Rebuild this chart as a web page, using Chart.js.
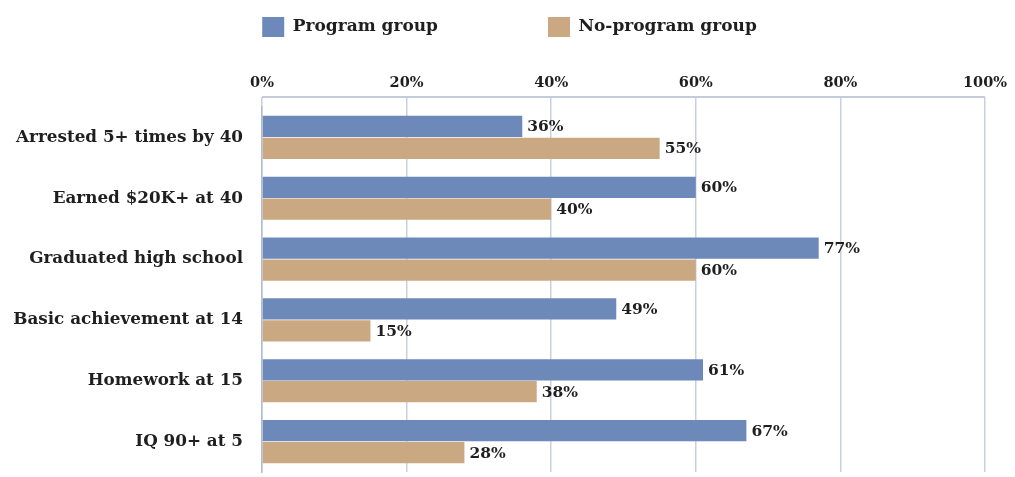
<!DOCTYPE html>
<html>
<head>
<meta charset="utf-8">
<script src="https://cdn.jsdelivr.net/npm/chart.js@4"></script>
<style>
  html, body { margin: 0; padding: 0; background: #fff; overflow: hidden; }
</style>
</head>
<body>
<canvas id="myChart" width="1015" height="477"></canvas>
<script>
var kategori = ['Arrested 5+ times by 40', 'Earned $20K+ at 40', 'Graduated high school', 'Basic achievement at 14', 'Homework at 15', 'IQ 90+ at 5']
var programGroup = [36, 60, 77, 49, 61, 67]
var noProgramGroup = [55, 40, 60, 15, 38, 28]
var tickMin = 0
var tickMax = 100
var tickStep = 20

var warnaTeks = '#1f1f1f'
var warnaGrid = '#c9cfe0'
var hurufSerif = "'DejaVu Serif', 'Liberation Serif', serif"

// garis atas bingkai plot, sedikit di atas area chart
const garisAtas = {
  id: 'garisAtas',
  beforeDatasetsDraw (chart) {
    const { ctx, chartArea } = chart
    ctx.save()
    ctx.strokeStyle = '#c5cbd8'
    ctx.lineWidth = 2
    ctx.beginPath()
    ctx.moveTo(chartArea.left, chartArea.top - 10)
    ctx.lineTo(chartArea.right, chartArea.top - 10)
    ctx.stroke()
    ctx.restore()
  }
}

// label nilai di ujung batang
const labelNilai = {
  id: 'labelNilai',
  afterDatasetsDraw (chart) {
    const ctx = chart.ctx
    ctx.save()
    ctx.font = 'bold 15.5px ' + hurufSerif
    ctx.fillStyle = warnaTeks
    ctx.textAlign = 'left'
    ctx.textBaseline = 'middle'
    chart.data.datasets.forEach((ds, i) => {
      chart.getDatasetMeta(i).data.forEach((bar, j) => {
        ctx.fillText(ds.data[j] + '%', bar.x + 5, bar.y + 1)
      })
    })
    ctx.restore()
  }
}

const ctx = document.getElementById('myChart')

new Chart(ctx, {
  type: 'bar',
  data: {
    labels: kategori,
    datasets: [{
      label: 'Program group',
      data: programGroup,
      backgroundColor: '#6d89b9',
      borderWidth: 0
    },
    {
      label: 'No-program group',
      data: noProgramGroup,
      backgroundColor: '#caa982',
      borderWidth: 0
    }]
  },
  options: {
    indexAxis: 'y',
    responsive: false,
    animation: false,
    categoryPercentage: 0.72,
    barPercentage: 0.97,
    layout: {
      padding: { top: -93, right: -4, bottom: 5, left: 0 }
    },
    plugins: {
      legend: {
        position: 'top',
        labels: {
          boxWidth: 22,
          boxHeight: 20,
          padding: 110,
          color: warnaTeks,
          font: { family: hurufSerif, size: 17, weight: 'bold' }
        }
      },
      tooltip: { enabled: false }
    },
    scales: {
      x: {
        position: 'top',
        min: tickMin,
        max: tickMax,
        afterFit (scale) {
          scale.height = 60
          scale.paddingRight = 30
        },
        ticks: {
          stepSize: tickStep,
          padding: 5,
          color: warnaTeks,
          font: { family: hurufSerif, size: 14.5, weight: 'bold' },
          callback: (v) => v + '%'
        },
        grid: {
          color: warnaGrid,
          lineWidth: 1.5,
          tickLength: 10
        },
        border: { display: false }
      },
      y: {
        afterFit (scale) {
          scale.width = 262
          scale.paddingTop = 0
          scale.paddingBottom = 0
        },
        ticks: {
          padding: 11,
          color: warnaTeks,
          font: { family: hurufSerif, size: 16.8, weight: 'bold' }
        },
        grid: { display: false },
        border: { display: true, color: '#b3bbcf', width: 1.5 }
      }
    }
  },
  plugins: [garisAtas, labelNilai]
})
</script>
</body>
</html>
